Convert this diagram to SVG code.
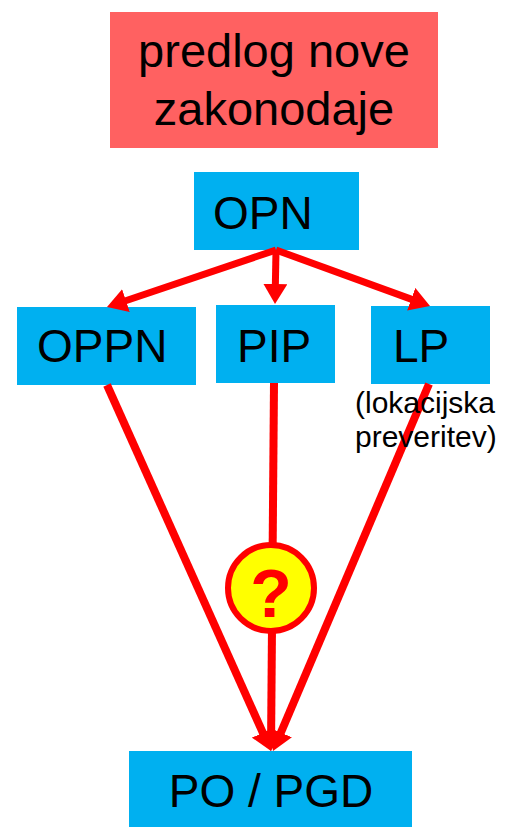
<svg xmlns="http://www.w3.org/2000/svg" width="517" height="827" viewBox="0 0 517 827">
<style>
.box{fill:#00B0F0}
.t{font-family:"Liberation Sans",Arial,sans-serif;fill:#000}
.big{font-size:46px}
.ln{stroke:#FF0000;fill:none;stroke-width:7}
.ln2{stroke:#FF0000;fill:none;stroke-width:8}
</style>
<defs>
<marker id="ah" viewBox="0 0 20 24" refX="5" refY="12" markerWidth="20" markerHeight="24" markerUnits="userSpaceOnUse" orient="auto">
<path d="M0,0 L20,12 L0,24 z" fill="#FF0000"/>
</marker>
</defs>
<rect width="517" height="827" fill="#fff"/>
<g id="predlog">
<rect x="110" y="12" width="328" height="136" fill="#FF6161"/>
<text class="t" x="274" y="67" font-size="47" text-anchor="middle">predlog nove</text>
<text class="t" x="274" y="125" font-size="47" text-anchor="middle">zakonodaje</text>
</g>
<g id="opn">
<rect class="box" x="194" y="172" width="165" height="78"/>
<text class="t big" x="213" y="229">OPN</text>
</g>
<g id="oppn">
<rect class="box" x="17" y="307" width="179" height="78"/>
<text class="t big" x="37" y="362">OPPN</text>
</g>
<g id="pip">
<rect class="box" x="216" y="305" width="119" height="78"/>
<text class="t big" x="237" y="362">PIP</text>
</g>
<g id="lp">
<rect class="box" x="371" y="306" width="119" height="78"/>
<text class="t big" x="393" y="362">LP</text>
</g>
<g id="popgd">
<rect class="box" x="129" y="751" width="283" height="76"/>
<text class="t big" x="271" y="807" text-anchor="middle">PO / PGD</text>
</g>
<g id="connectors">
<line class="ln" x1="276" y1="250" x2="121.2" y2="302.2" marker-end="url(#ah)"/>
<line class="ln" x1="276" y1="250" x2="275.3" y2="289" marker-end="url(#ah)"/>
<line class="ln" x1="276" y1="250" x2="415.9" y2="300.9" marker-end="url(#ah)"/>
<line class="ln2" x1="107" y1="385" x2="264.9" y2="737.3" marker-end="url(#ah)"/>
<line class="ln2" x1="274" y1="383" x2="271.1" y2="736" marker-end="url(#ah)"/>
<line class="ln2" x1="429" y1="384" x2="278.9" y2="737.2" marker-end="url(#ah)"/>
</g>
<g id="lp-note">
<text class="t" x="355" y="413" font-size="30">(lokacijska</text>
<text class="t" x="355" y="447" font-size="30">preveritev)</text>
</g>
<g id="question">
<circle cx="271" cy="588" r="43" fill="#FFFF00" stroke="#FF0000" stroke-width="6"/>
<text x="271" y="617" font-family="Liberation Sans,Arial,sans-serif" font-weight="bold" font-size="68" fill="#FF0000" text-anchor="middle">?</text>
</g>
</svg>
